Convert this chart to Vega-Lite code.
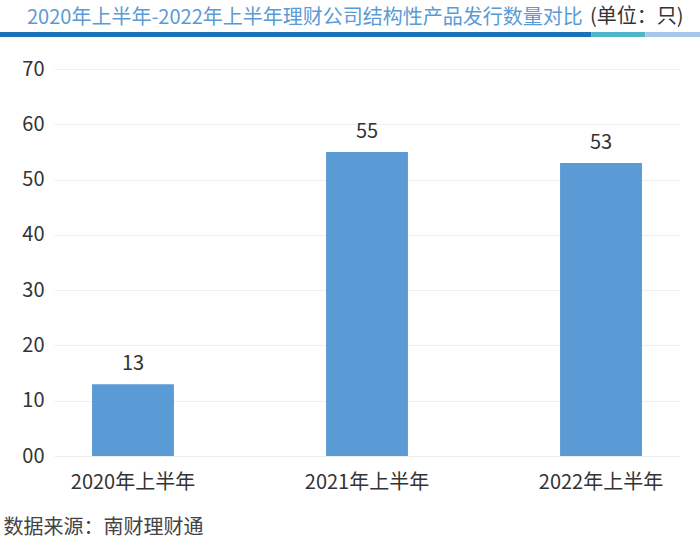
{
  "$schema": "https://vega.github.io/schema/vega-lite/v6.json",
  "width": 626,
  "height": 387,
  "autosize": {"type": "none"},
  "padding": {"left": 54, "top": 69, "right": 20, "bottom": 83},
  "background": "white",
  "config": {"font": "Noto Sans CJK SC", "view": {"stroke": null}},
  "title": {
    "text": "2020年上半年-2022年上半年理财公司结构性产品发行数量对比",
    "anchor": "start",
    "frame": "group",
    "dx": -27,
    "offset": -22,
    "fontSize": 20,
    "fontWeight": "normal",
    "color": "#5b9bd5",
    "font": "Noto Sans CJK SC"
  },
  "datasets": {
    "bars": [
      {"period": "2020年上半年", "count": 13},
      {"period": "2021年上半年", "count": 55},
      {"period": "2022年上半年", "count": 53}
    ],
    "strip": [
      {"seg": "a", "from": 0, "to": 0.845},
      {"seg": "b", "from": 0.845, "to": 0.922},
      {"seg": "c", "from": 0.922, "to": 1}
    ]
  },
  "layer": [
    {
      "data": {"name": "bars"},
      "encoding": {
        "x": {
          "field": "period",
          "type": "nominal",
          "sort": null,
          "scale": {"paddingInner": 0.65, "paddingOuter": 0.1625},
          "axis": {
            "title": "数据来源：南财理财通",
            "titleX": -51,
            "titleY": 77,
            "titleAlign": "left",
            "titleAnchor": "start",
            "titleBaseline": "alphabetic",
            "titleFontSize": 20,
            "titleFontWeight": "normal",
            "titleColor": "#444444",
            "labelFontSize": 20,
            "labelColor": "#333333",
            "labelAngle": 0,
            "labelPadding": 16,
            "ticks": false,
            "domain": false
          }
        },
        "y": {
          "field": "count",
          "type": "quantitative",
          "scale": {"domain": [0, 70]},
          "axis": {
            "title": "(单位：只)",
            "titleAngle": 0,
            "titleX": 629,
            "titleY": -47,
            "titleAlign": "right",
            "titleBaseline": "alphabetic",
            "titleFontSize": 20,
            "titleFontWeight": "normal",
            "titleColor": "#333333",
            "labelFontSize": 20,
            "labelColor": "#333333",
            "labelPadding": 10,
            "ticks": false,
            "domain": false,
            "gridColor": "#eeeeee",
            "values": [0, 10, 20, 30, 40, 50, 60, 70],
            "labelExpr": "datum.value === 0 ? '00' : datum.label"
          }
        }
      },
      "layer": [
        {"mark": {"type": "bar", "color": "#5b9bd5"}},
        {
          "mark": {"type": "text", "dy": -14, "baseline": "alphabetic", "fontSize": 20, "color": "#333333"},
          "encoding": {"text": {"field": "count", "type": "quantitative"}}
        }
      ]
    },
    {
      "data": {"name": "strip"},
      "mark": {"type": "rect"},
      "encoding": {
        "x": {"field": "from", "type": "quantitative", "scale": {"domain": [0, 1], "range": [-54, 646], "nice": false, "zero": false}, "axis": null},
        "x2": {"field": "to"},
        "y": {"datum": 0, "type": "quantitative", "scale": {"domain": [0, 1], "range": [-32, -37], "nice": false}, "axis": null},
        "y2": {"datum": 1},
        "color": {"field": "seg", "type": "nominal", "scale": {"domain": ["a", "b", "c"], "range": ["#1b72b8", "#4fb6c8", "#a9c8e9"]}, "legend": null}
      }
    }
  ],
  "resolve": {"scale": {"x": "independent", "y": "independent"}}
}
